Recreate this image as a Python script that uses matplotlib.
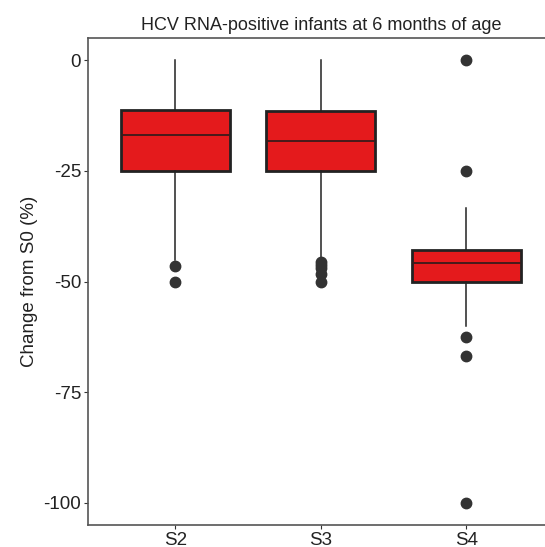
import matplotlib
matplotlib.use("Agg")
import matplotlib.pyplot as plt

# Box statistics (change from S0, %)
stages = ["S2", "S3", "S4"]
whisker_hi = [0.0, 0.0, -33.5]
q3 = [-11.3, -11.5, -42.9]
median = [-16.8, -18.3, -45.9]
q1 = [-25.0, -25.0, -50.0]
whisker_lo = [-45.2, -44.8, -60.1]
outliers = [
    [-46.4, -50.0],
    [-45.5, -46.3, -47.0, -48.2, -50.0],
    [0.0, -25.0, -62.6, -66.8, -100.0],
]
yticks = [0, -25, -50, -75, -100]

plt.rcParams["font.family"] = ["Liberation Sans", "DejaVu Sans"]

stats = [
    dict(label=s, whishi=wh, q3=a, med=m, q1=b, whislo=wl, fliers=f)
    for s, wh, a, m, b, wl, f in zip(stages, whisker_hi, q3, median, q1,
                                       whisker_lo, outliers)
]

fig = plt.figure(figsize=(5.45, 5.47), dpi=100)
# axes runs past the right edge, as in the cropped original
ax = fig.add_axes([88 / 545, 22 / 547, 465.6 / 545, 487 / 547])

ax.bxp(
    stats,
    positions=[1, 2, 3],
    widths=0.75,
    patch_artist=True,
    showcaps=False,
    boxprops=dict(facecolor="#E41A1C", edgecolor="#222222", linewidth=2.0),
    medianprops=dict(color="#3a1a1a", linewidth=1.3),
    whiskerprops=dict(color="#222222", linewidth=1.1),
    flierprops=dict(marker="o", markerfacecolor="#333333",
                    markeredgecolor="#333333", markersize=7.5),
)

ax.set_xlim(0.4, 3.6)
ax.set_ylim(-105, 5)
ax.set_xticks([1, 2, 3])
ax.set_xticklabels(stages)
ax.set_yticks(yticks)
ax.set_yticklabels([str(t) for t in yticks])
ax.tick_params(colors="#333333", labelcolor="#222222", labelsize=13.5,
               length=3, width=0.8, pad=2)

for side in ["left", "bottom", "top", "right"]:
    ax.spines[side].set_color("#555555")
    ax.spines[side].set_linewidth(1.2)

ax.set_ylabel("Change from S0 (%)", fontsize=13.5, color="#222222", labelpad=4)
ax.set_title("HCV RNA-positive infants at 6 months of age", fontsize=13,
             color="#222222", pad=6)

fig.savefig("out.png", dpi=100)
